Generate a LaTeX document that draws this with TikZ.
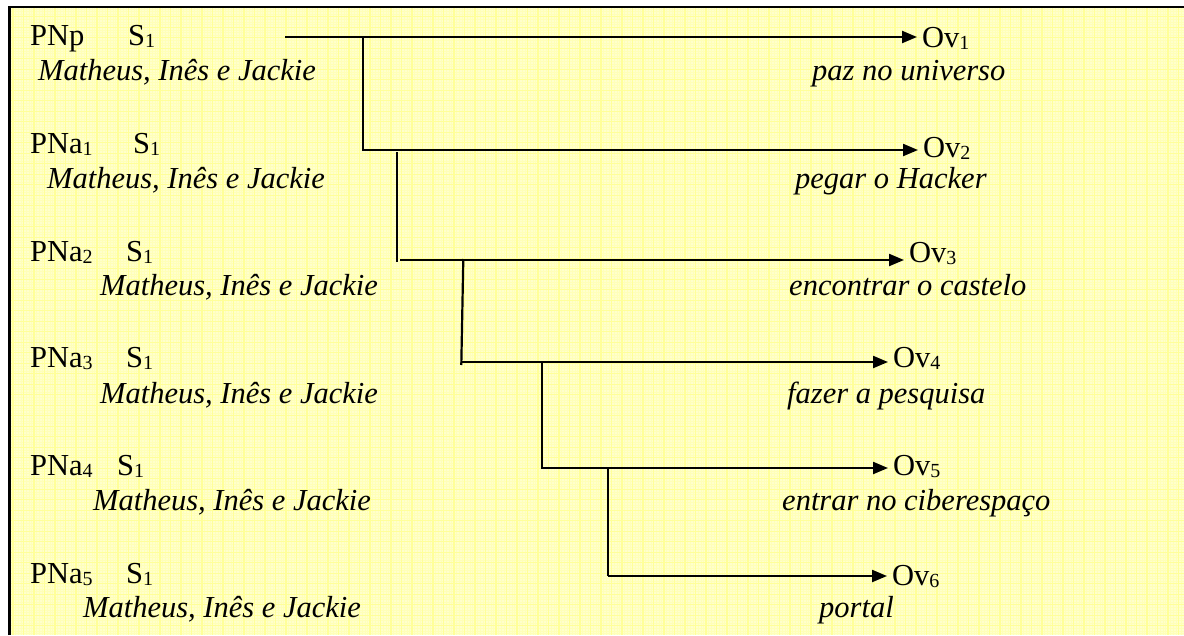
\documentclass[tikz,border=0pt]{standalone}
\usepackage{fontspec}
\setmainfont{Liberation Serif}
\usetikzlibrary{arrows.meta}
\definecolor{bgyellow}{HTML}{FFFFCC}
\definecolor{gridmaj}{HTML}{FFFF99}
\definecolor{gridmin}{HTML}{FFFFB8}
\newcommand\subidx[1]{\raisebox{-2.5pt}{\fontsize{20}{20}\selectfont #1}}
\tikzset{
  lbl/.style={anchor=base west, inner sep=0pt},
  ovl/.style={anchor=base west, inner ysep=0pt, inner xsep=5pt},
  conn/.style={line width=2.2pt},
  arr/.style={conn, -{Triangle[length=15pt,width=12pt]}},
}
\begin{document}
\begin{tikzpicture}[x=1pt, y=-1pt, font=\fontsize{30.5}{36}\selectfont]
\useasboundingbox (0,0) rectangle (1184,635);
\fill[white] (0,0) rectangle (1184,635);
\fill[bgyellow] (11,8) rectangle (1184,635);
\begin{scope}
  \clip (11,8) rectangle (1184,635);
  \foreach \i in {0,...,452} {\draw[gridmin, line width=0.5pt] ({2.5+2.625*\i},8) -- ({2.5+2.625*\i},635);}
  \foreach \i in {0,...,244} {\draw[gridmin, line width=0.5pt] (11,{6.2+2.625*\i}) -- (1184,{6.2+2.625*\i});}
  \foreach \i in {0,...,113} {\draw[gridmaj, line width=1.1pt] ({2.5+10.5*\i},8) -- ({2.5+10.5*\i},635);}
  \foreach \i in {0,...,61} {\draw[gridmaj, line width=1.1pt] (11,{6.2+10.5*\i}) -- (1184,{6.2+10.5*\i});}
\end{scope}
\draw[line width=2.2pt] (9.5,635) -- (9.5,6.7) -- (1184,6.7);

% left column
\node[lbl] (pn0) at (30,45) {PNp};
\node[lbl] (s0) at (128,45) {S\subidx{1}};
\node[lbl] (m0) at (38,80) {\itshape Matheus, Inês e Jackie};
\node[lbl] (pn1) at (30,153) {PNa\subidx{1}};
\node[lbl] (s1) at (133,153) {S\subidx{1}};
\node[lbl] (m1) at (47,188) {\itshape Matheus, Inês e Jackie};
\node[lbl] (pn2) at (30,261) {PNa\subidx{2}};
\node[lbl] (s2) at (126,261) {S\subidx{1}};
\node[lbl] (m2) at (100,295) {\itshape Matheus, Inês e Jackie};
\node[lbl] (pn3) at (30,367) {PNa\subidx{3}};
\node[lbl] (s3) at (126,367) {S\subidx{1}};
\node[lbl] (m3) at (100,403) {\itshape Matheus, Inês e Jackie};
\node[lbl] (pn4) at (30,475) {PNa\subidx{4}};
\node[lbl] (s4) at (117,475) {S\subidx{1}};
\node[lbl] (m4) at (93,510) {\itshape Matheus, Inês e Jackie};
\node[lbl] (pn5) at (30,583) {PNa\subidx{5}};
\node[lbl] (s5) at (126,583) {S\subidx{1}};
\node[lbl] (m5) at (83,617) {\itshape Matheus, Inês e Jackie};

% right column
\node[ovl] (ov1) at (917,47) {Ov\subidx{1}};
\node[lbl] (g1) at (812,80) {\itshape paz no universo};
\node[ovl] (ov2) at (918,157) {Ov\subidx{2}};
\node[lbl] (g2) at (795,188) {\itshape pegar o Hacker};
\node[ovl] (ov3) at (904,262) {Ov\subidx{3}};
\node[lbl] (g3) at (789,295) {\itshape encontrar o castelo};
\node[ovl] (ov4) at (888,367) {Ov\subidx{4}};
\node[lbl] (g4) at (787,403) {\itshape fazer a pesquisa};
\node[ovl] (ov5) at (888,475) {Ov\subidx{5}};
\node[lbl] (g5) at (782,510) {\itshape entrar no ciberespaço};
\node[ovl] (ov6) at (887,585) {Ov\subidx{6}};
\node[lbl] (g6) at (819,617) {\itshape portal};

% connectors
\coordinate (a1) at (285,37);
\coordinate (j1) at (363,38);
\coordinate (a2) at (362,150);
\coordinate (j2) at (397,152);
\coordinate (a3) at (400,260);
\coordinate (j3) at (463.3,259);
\coordinate (e3) at (461.3,365);
\coordinate (a4) at (461.5,362);
\coordinate (j4) at (542,362);
\coordinate (a5) at (541,468);
\coordinate (j5) at (608,468);
\coordinate (a6) at (608,576);

\draw[arr] (a1) -- (a1 -| ov1.west);
\draw[conn] (j1) -- (j1 |- a2);
\draw[arr] (a2) -- (a2 -| ov2.west);
\draw[conn] (j2) -- (j2 |- 0,262);
\draw[arr] (a3) -- (a3 -| ov3.west);
\draw[conn] (j3) -- (e3);
\draw[arr] (a4) -- (a4 -| ov4.west);
\draw[conn] (j4) -- (j4 |- a5);
\draw[arr] (a5) -- (a5 -| ov5.west);
\draw[conn] (j5) -- (a6);
\draw[arr] (a6) -- (a6 -| ov6.west);
\end{tikzpicture}
\end{document}
